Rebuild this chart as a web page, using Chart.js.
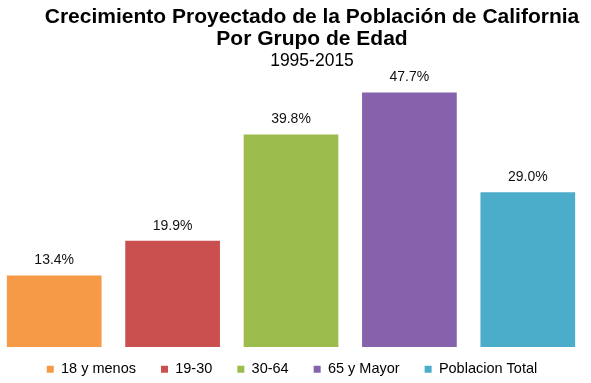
<!DOCTYPE html>
<html>
<head>
<meta charset="utf-8">
<script src="https://cdn.jsdelivr.net/npm/chart.js@4/dist/chart.umd.min.js"></script>
<style>
  html, body { margin: 0; padding: 0; background: #fff; overflow: hidden; }
  #wrap { position: absolute; left: -5px; top: 0; width: 597px; height: 383px; }
</style>
</head>
<body>
<div id="wrap"><canvas id="c"></canvas></div>
<script>
const categories = ['18 y menos', '19-30', '30-64', '65 y Mayor', 'Poblacion Total'];
const growthPct = [13.4, 19.9, 39.8, 47.7, 29.0];
const barColors = ['#F79A48', '#C9504F', '#9CBC4E', '#8762AC', '#4BADC9'];
const titleLines = ['Crecimiento Proyectado de la Población de California', 'Por Grupo de Edad'];
const subtitleText = '1995-2015';

const FONT = "'Liberation Sans', Arial, sans-serif";

const layoutTweak = {
  id: 'layoutTweak',
  beforeUpdate(chart) {
    const lg = chart.legend;
    if (lg && !lg._fitPatched) {
      lg._fitPatched = true;
      const origFit = lg.fit;
      lg.fit = function () { origFit.call(this); this.height = 36; };
    }
  },
  afterUpdate(chart) {
    chart.boxes.forEach(b => {
      if (b.legendItems) {
        b.left += 1; b.right += 1;
        b.top = 337; b.bottom = 383;
      } else if (b.options && b.options.text !== undefined && b.options.position === 'top') {
        b.left += 21; b.right += 21;
      }
    });
  }
};

const valueLabels = {
  id: 'valueLabels',
  afterDatasetsDraw(chart) {
    const ctx = chart.ctx;
    const meta = chart.getDatasetMeta(0);
    ctx.save();
    ctx.font = '14px ' + FONT;
    ctx.fillStyle = '#111';
    ctx.textAlign = 'center';
    ctx.textBaseline = 'middle';
    meta.data.forEach((bar, i) => {
      ctx.fillText(growthPct[i].toFixed(1) + '%', bar.x, bar.y - 15);
    });
    ctx.restore();
  }
};

new Chart(document.getElementById('c'), {
  type: 'bar',
  data: {
    labels: categories,
    datasets: [{
      data: growthPct,
      backgroundColor: barColors,
      borderWidth: 0,
      barPercentage: 0.8,
      categoryPercentage: 1.0
    }]
  },
  options: {
    responsive: true,
    maintainAspectRatio: false,
    animation: false,
    layout: { padding: { left: 0, right: 5, top: 0, bottom: 0 } },
    scales: {
      x: { display: false },
      y: { display: false, min: 0, max: 50 }
    },
    plugins: {
      tooltip: { enabled: false },
      title: {
        display: true,
        text: titleLines,
        color: '#000',
        font: { family: FONT, size: 21, weight: 'bold', lineHeight: 1.05 },
        padding: { top: 6, bottom: 0 }
      },
      subtitle: {
        display: true,
        text: subtitleText,
        color: '#000',
        font: { family: FONT, size: 17.5, weight: 'normal', lineHeight: 1.2 },
        padding: { top: 1, bottom: 8 }
      },
      legend: {
        display: true,
        position: 'bottom',
        labels: {
          color: '#000',
          boxWidth: 7,
          boxHeight: 7,
          padding: 25,
          font: { family: FONT, size: 14.5 },
          generateLabels(chart) {
            return categories.map((c, i) => ({
              text: c,
              fillStyle: barColors[i],
              strokeStyle: barColors[i],
              lineWidth: 0,
              hidden: false,
              index: i,
              fontColor: '#000'
            }));
          }
        }
      }
    }
  },
  plugins: [layoutTweak, valueLabels]
});
</script>
</body>
</html>
